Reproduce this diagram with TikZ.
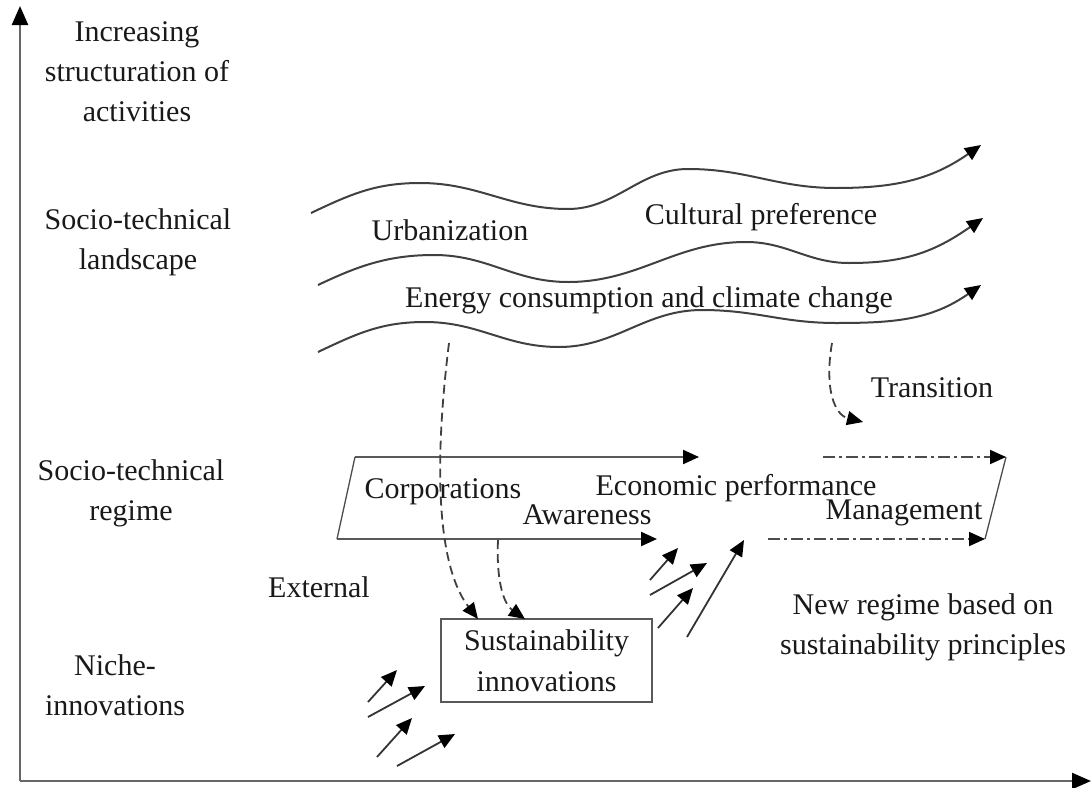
\documentclass[tikz,border=0pt]{standalone}
\usepackage{fontspec}
\setmainfont{Liberation Serif}
\usetikzlibrary{arrows.meta,positioning}

\tikzset{
  lbl/.style={font=\fontsize{30}{40}\selectfont,align=center,inner sep=0pt,text=black!90},
  axisline/.style={line width=2.4pt,draw=black!60,-{Triangle[length=19pt,width=16pt,color=black]}},
  waveline/.style={line width=2pt,draw=black!75,-{Triangle[length=16pt,width=14pt,color=black]}},
  regline/.style={line width=2.2pt,draw=black!65,-{Triangle[length=16pt,width=14pt,color=black]}},
  dashdotline/.style={line width=1.8pt,draw=black!70,dash pattern=on 12pt off 4pt on 3pt off 4pt,-{Triangle[length=16pt,width=14pt,color=black]}},
  dashline/.style={line width=1.8pt,draw=black!75,dash pattern=on 9pt off 5pt,-{Triangle[length=16pt,width=14pt,color=black]}},
  pusharrow/.style={line width=1.8pt,draw=black!80,-{Triangle[length=16pt,width=14pt,color=black]}},
  nichebox/.style={draw=black!65,line width=1.6pt,minimum width=211pt,minimum height=83pt,inner sep=0pt,font=\fontsize{30}{41}\selectfont,align=center,text=black!90}
}

\begin{document}
\begin{tikzpicture}[x=1pt,y=-1pt]
\useasboundingbox (0,0) rectangle (1091,787);

% axes
\coordinate (orig) at (20,781);
\coordinate (ytop) at (20,6);
\coordinate (xend) at (1091,781);
\draw[axisline] (orig)--(ytop);
\draw[axisline] (orig)--(xend);

% level labels
\node[lbl] (incr) at (137,72) {Increasing\\structuration of\\activities};
\node[lbl] (land) at (138,242) {Socio-technical\\landscape};
\node[lbl] (regime) at (131,493) {Socio-technical\\regime};
\node[lbl] (niche) at (115,685) {Niche-\\innovations};
\node[lbl] (extern) at (319,587) {External};

% landscape waves
\draw[waveline] (311,213) .. controls (351,194) and (376,183) .. (420,183)
 .. controls (479,183) and (509,209) .. (568,209)
 .. controls (616,209) and (640,169) .. (688,169)
 .. controls (747,169) and (777,188) .. (836,188)
 .. controls (894,188) and (931,180) .. (981,145);
\draw[waveline] (318,285) .. controls (358,266) and (388,255) .. (434,255)
 .. controls (488,255) and (514,282) .. (568,282)
 .. controls (639,282) and (675,242) .. (746,242)
 .. controls (787,242) and (808,263) .. (849,263)
 .. controls (903,263) and (933,253) .. (983,218);
\draw[waveline] (318,352) .. controls (358,333) and (382,322) .. (425,322)
 .. controls (479,322) and (505,347) .. (559,347)
 .. controls (616,347) and (645,310) .. (702,310)
 .. controls (756,310) and (782,323) .. (836,323)
 .. controls (894,323) and (931,320) .. (981,285);

\node[lbl] (urban) at (450,230) {Urbanization};
\node[lbl] (culture) at (761,217) {Cultural preference};
\node[lbl] (energy) at (649,300) {Energy consumption and climate change};

% regime
\coordinate (rtl) at (355,457);
\coordinate (rbl) at (337,539);
\coordinate (rtm) at (699,457);
\coordinate (rbm) at (657,539);
\coordinate (rts) at (823,457);
\coordinate (rtr) at (1006,457);
\coordinate (rbs) at (768,539);
\coordinate (rbr) at (985,539);
\draw[regline] (rtl)--(rtm);
\draw[regline] (rbl)--(rbm);
\draw[line width=1.3pt,draw=black!70] (rtl)--(rbl);
\draw[line width=1.3pt,draw=black!70] (rtr)--(rbr);
\draw[dashdotline] (rts)--(rtr);
\draw[dashdotline] (rbs)--(rbr);

\node[lbl] (corp) at (443,492) {Corporations};
\node[lbl] (econ) at (736,488) {Economic performance};
\node[lbl] (aware) at (587,515) {Awareness};
\node[lbl] (manage) at (904,513) {Management};

% niche box
\node[nichebox] (sust) at (546.5,660.5) {Sustainability\\innovations};

% dashed influences
\coordinate (dlA) at (449,343);
\coordinate (dlB) at (478,619);
\coordinate (daA) at (498,540);
\coordinate (daB) at (525,619);
\coordinate (dtA) at (832,343);
\coordinate (dtB) at (863,422);
\draw[dashline] (dlA) .. controls (432,480) and (440,570) .. (dlB);
\draw[dashline] (daA) .. controls (496,585) and (505,605) .. (daB);
\draw[dashline] (dtA) .. controls (824,390) and (835,415) .. (dtB);

\node[lbl] (trans) at (932,388) {Transition};
\node[lbl] (newreg) at (923,627) {New regime based on\\sustainability principles};

% small pushing arrows
\foreach \i/\ax/\ay/\bx/\by in {1/650/580/678/548, 2/650/595/707/563, 3/658/628/693/588,
  4/687/637/744/540, 5/368/702/397/670, 6/368/717/425/686,
  7/377/757/412/718, 8/397/766/455/734}{
  \coordinate (ps\i) at (\ax,\ay);
  \coordinate (pe\i) at (\bx,\by);
  \draw[pusharrow] (ps\i)--(pe\i);
}
\end{tikzpicture}
\end{document}
